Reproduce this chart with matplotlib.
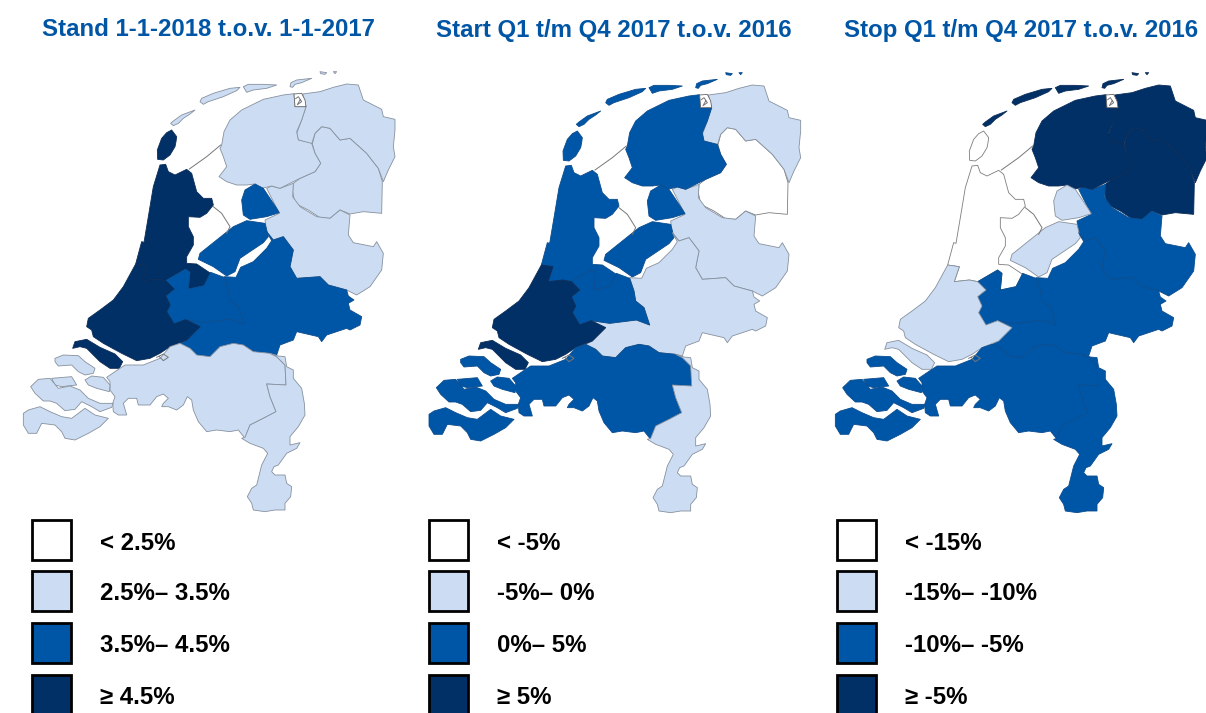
#!/usr/bin/python
# -*- coding: utf-8 -*-

import matplotlib
matplotlib.use('Agg')
import matplotlib.pyplot as plt
from matplotlib.patches import Polygon, Rectangle

plt.rcParams['font.family'] = ['Liberation Sans', 'DejaVu Sans']

# outlines are traced in 1/3 pixel units of the left map
TEXEL = [(515,390),(530,410),(528,425),(525,440),(510,465),(490,480),(473,478),(472,450),(485,415),(500,398)]
VLIELAND = [(512,370),(520,363),(545,345),(585,330),(570,342),(550,355),(535,370),(520,377)]
TERSCHELLING = [(600,305),(605,295),(640,280),(690,265),(720,262),(710,272),(670,290),(625,305),(610,313)]
AMELAND = [(730,260),(745,253),(790,253),(830,255),(800,265),(760,270),(740,277)]
SCHIER = [(870,260),(873,248),(890,240),(935,235),(905,248),(885,253),(878,262)]
ROTTUM_A = [(960,215),(980,218),(975,223),(962,221)]
ROTTUM_B = [(1000,215),(1010,215),(1005,221)]

FRIESLAND = [(665,435),(672,395),(690,360),(725,330),(790,298),(850,285),(882,281),(885,320),(918,320),
             (905,360),(890,395),(895,420),(935,430),(945,460),(962,490),(945,515),(900,535),(870,550),
             (840,565),(815,558),(785,565),(765,552),(740,555),(710,555),(680,545),(657,530),(680,500),
             (670,470),(660,445)]
LAUWERS = [(882,282),(905,280),(915,300),(918,320),(885,320)]
LAUWERS_MARK = [(887,296),(895,290),(905,305),(892,314),(900,300)]
GRONINGEN = [(908,282),(960,275),(1000,262),(1040,252),(1075,255),(1090,300),(1145,328),(1150,350),
             (1185,358),(1185,390),(1180,440),(1185,470),(1165,510),(1150,545),(1135,505),(1100,460),
             (1050,415),(1020,420),(990,385),(965,380),(945,400),(935,432),(895,420),(890,400),(905,360),
             (918,320)]
DRENTHE = [(937,432),(945,400),(965,380),(990,385),(1020,420),(1050,415),(1100,460),(1135,505),(1147,545),
           (1145,640),(1090,635),(1050,642),(1020,630),(990,655),(960,653),(925,630),(885,610),(878,575),
           (880,550),(900,535),(945,515),(962,490),(945,460)]
OVERIJSSEL = [(880,550),(878,590),(900,620),(950,650),(990,655),(1020,630),(1050,645),(1045,705),(1060,728),
              (1120,740),(1130,725),(1150,760),(1145,810),(1110,860),(1070,885),(1040,870),(985,855),
              (960,830),(890,835),(870,800),(880,750),(850,710),(820,720),(800,695),(795,660),(838,640),
              (800,565),(815,558),(840,565)]
FLEVO_NOP = [(765,552),(790,565),(810,595),(830,625),(838,638),(800,650),(750,658),(730,645),(725,600),(735,570)]
FLEVO_ZUID = [(740,662),(795,670),(805,710),(790,728),(720,775),(705,815),(680,828),(640,800),(595,778),
              (600,760),(650,720),(700,680)]
NOORD_HOLLAND = [(480,495),(497,493),(505,515),(525,525),(560,508),(575,520),(590,575),(610,595),(635,595),
                 (640,615),(620,640),(600,652),(565,650),(565,680),(580,710),(580,735),(560,770),(560,790),
                 (590,792),(632,820),(612,857),(565,867),(570,817),(557,807),(497,842),(472,837),(427,842),
                 (442,797),(407,792),(425,725),(432,727),(445,650),(460,560)]
ZUID_HOLLAND = [(407,792),(442,797),(427,842),(472,837),(497,842),(522,867),(497,887),(510,915),(500,935),
                (522,972),(557,959),(600,980),(560,1020),(510,1040),(480,1060),(450,1075),(410,1082),
                (365,1060),(310,1030),(280,1010),(275,990),(260,980),(265,955),(300,930),(340,900),(370,860)]
GOEREE = [(218,1045),(225,1025),(260,1018),(300,1042),(345,1062),(368,1085),(358,1105),(330,1105),(300,1085),
          (280,1065),(260,1045),(240,1040)]
UTRECHT = [(497,842),(557,807),(570,817),(565,867),(612,857),(632,817),(672,832),(685,870),(690,900),(715,920),
           (732,972),(692,957),(612,967),(557,959),(522,972),(500,935),(510,915),(497,887),(522,867)]
GELDERLAND = [(672,830),(708,832),(722,802),(760,785),(800,745),(815,722),(800,695),(820,720),(850,710),(880,750),
              (870,800),(890,835),(960,830),(985,855),(1040,870),(1045,888),(1062,900),(1045,910),(1050,930),
              (1085,950),(1080,975),(1050,990),(1040,985),(980,1005),(965,1025),(955,1010),(890,995),(880,1020),
              (840,1035),(830,1065),(810,1060),(760,1055),(730,1035),(700,1030),(660,1040),(630,1070),(590,1065),
              (570,1045),(540,1030),(560,1020),(600,980),(557,959),(612,967),(692,957),(732,972),(715,920),
              (690,900),(685,870)]
SCHOUWEN = [(165,1075),(190,1065),(235,1067),(255,1085),(285,1105),(280,1120),(255,1125),(235,1115),(215,1095),(175,1098),(165,1085)]
THOLEN = [(255,1140),(275,1128),(310,1132),(330,1155),(328,1175),(290,1165),(265,1155)]
N_BEVELAND = [(155,1135),(215,1130),(230,1155),(185,1160),(165,1155)]
Z_BEVELAND = [(92,1160),(115,1138),(150,1135),(175,1165),(210,1158),(240,1170),(265,1195),(300,1210),(340,1210),
              (335,1222),(300,1235),(275,1220),(245,1205),(225,1228),(195,1232),(170,1210),(150,1203),(130,1203),(105,1180)]
Z_VLAANDEREN = [(70,1240),(85,1230),(120,1220),(150,1235),(185,1250),(215,1255),(255,1225),(285,1245),(325,1255),
                (300,1280),(265,1300),(225,1320),(195,1315),(185,1295),(165,1275),(125,1270),(110,1300),(85,1300),(70,1275)]
BRABANT = [(320,1132),(345,1115),(375,1095),(430,1095),(480,1075),(510,1040),(540,1030),(570,1045),(590,1065),
           (630,1070),(660,1040),(700,1030),(730,1035),(760,1055),(810,1060),(830,1070),(855,1095),(858,1155),
           (800,1152),(810,1190),(828,1235),(790,1255),(750,1275),(735,1315),(715,1290),(690,1295),(650,1290),
           (620,1295),(595,1265),(580,1230),(575,1200),(562,1190),(550,1215),(530,1230),(505,1220),(485,1220),
           (490,1210),(505,1195),(490,1182),(470,1190),(450,1215),(415,1215),(410,1195),(385,1195),(370,1210),
           (380,1245),(355,1245),(340,1235),(338,1210),(345,1190),(330,1170),(330,1145)]
LIMBURG = [(810,1060),(835,1068),(855,1070),(860,1100),(880,1110),(880,1135),(905,1165),(913,1210),(915,1245),
           (895,1280),(870,1310),(870,1335),(900,1328),(890,1345),(860,1360),(835,1395),(822,1400),(815,1415),
           (825,1425),(855,1425),(860,1450),(875,1460),(872,1490),(855,1510),(855,1530),(825,1530),(795,1535),
           (760,1530),(755,1510),(742,1490),(755,1465),(770,1455),(785,1395),(803,1360),(790,1345),(750,1330),
           (725,1315),(735,1312),(750,1275),(790,1255),(828,1235),(810,1190),(800,1152),(858,1155),(855,1095),(830,1070)]

# thin dike lines in the IJsselmeer
AFSLUITDIJK = [(568,507),(620,470),(662,435)]
HOUTRIBDIJK = [(640,620),(665,640),(690,680),(680,700)]
BIESBOSCH = [(470,1072),(490,1062),(505,1072),(490,1082),(478,1070)]

# class per province for each of the three maps (0 white .. 3 darkest)
WADDEN_CLASS = [1, 2, 3]
FRIESLAND_CLASS = [1, 2, 3]
GRONINGEN_CLASS = [1, 1, 3]
DRENTHE_CLASS = [1, 0, 3]
OVERIJSSEL_CLASS = [1, 1, 2]
FLEVOLAND_CLASS = [2, 2, 1]
GELDERLAND_CLASS = [2, 1, 2]
UTRECHT_CLASS = [2, 2, 2]
NOORD_HOLLAND_CLASS = [3, 2, 0]
ZUID_HOLLAND_CLASS = [3, 3, 1]
ZEELAND_CLASS = [1, 2, 2]
BRABANT_CLASS = [1, 2, 2]
LIMBURG_CLASS = [1, 1, 2]

titles = ['Stand 1-1-2018 t.o.v. 1-1-2017', 'Start Q1 t/m Q4 2017 t.o.v. 2016', 'Stop Q1 t/m Q4 2017 t.o.v. 2016']
legend_labels = [['< 2.5%', '2.5%\u2013 3.5%', '3.5%\u2013 4.5%', '\u2265 4.5%'],
                 ['< -5%', '-5%\u2013 0%', '0%\u2013 5%', '\u2265 5%'],
                 ['< -15%', '-15%\u2013 -10%', '-10%\u2013 -5%', '\u2265 -5%']]

fills = ['#ffffff', '#cbdcf3', '#0056a6', '#003066']
edges = ['#7d7d7d', '#87919e', '#0b4c8e', '#0d2d58']
title_color = '#0055a5'

map_dx = [0, 1217, 2436]
map_dy = [0, 3, 3]
title_x = [42, 436, 844]
swatch_x = [32, 429, 837]
label_x = [100, 497, 905]
swatch_y = [519.5, 571, 623, 674.5]
label_y = [543, 594, 646, 697]

fig = plt.figure(figsize=(12.06, 7.13), dpi=100)

base = fig.add_axes([0, 0, 1, 1])
base.set_xlim(0, 1206)
base.set_ylim(713, 0)
base.axis('off')

for m in range(3):
    base.text(title_x[m], 30, titles[m], color=title_color, fontsize=17.3, fontweight='bold', va='center', ha='left')
    for i in range(4):
        base.add_patch(Rectangle((swatch_x[m], swatch_y[i]), 39, 40, facecolor=fills[i], edgecolor='black', linewidth=2))
        base.text(label_x[m], label_y[i], legend_labels[m][i], color='black', fontsize=17.3, fontweight='bold', va='center', ha='left')

    ax = fig.add_axes([0, 0, 1, 1])
    ax.patch.set_alpha(0)
    ax.set_xlim(-map_dx[m], 3618 - map_dx[m])
    ax.set_ylim(2139 - map_dy[m], -map_dy[m])
    ax.axis('off')

    provinces = [([DRENTHE], DRENTHE_CLASS), ([OVERIJSSEL], OVERIJSSEL_CLASS), ([GRONINGEN], GRONINGEN_CLASS),
                 ([FRIESLAND], FRIESLAND_CLASS), ([FLEVO_NOP, FLEVO_ZUID], FLEVOLAND_CLASS),
                 ([GELDERLAND], GELDERLAND_CLASS), ([NOORD_HOLLAND, TEXEL], NOORD_HOLLAND_CLASS),
                 ([UTRECHT], UTRECHT_CLASS), ([ZUID_HOLLAND, GOEREE], ZUID_HOLLAND_CLASS),
                 ([BRABANT], BRABANT_CLASS), ([LIMBURG], LIMBURG_CLASS),
                 ([SCHOUWEN, THOLEN, N_BEVELAND, Z_BEVELAND, Z_VLAANDEREN], ZEELAND_CLASS),
                 ([VLIELAND, TERSCHELLING, AMELAND, SCHIER, ROTTUM_A, ROTTUM_B], WADDEN_CLASS)]
    for shapes, cls in provinces:
        for shape in shapes:
            ax.add_patch(Polygon(shape, closed=True, facecolor=fills[cls[m]], edgecolor=edges[cls[m]], linewidth=0.6, joinstyle='round'))

    ax.add_patch(Polygon(LAUWERS, closed=True, facecolor='white', edgecolor='#666666', linewidth=0.6))
    for line in [AFSLUITDIJK, HOUTRIBDIJK, BIESBOSCH, LAUWERS_MARK]:
        ax.plot([p[0] for p in line], [p[1] for p in line], color='#777777', linewidth=0.7)

fig.savefig('out.png', dpi=100)
